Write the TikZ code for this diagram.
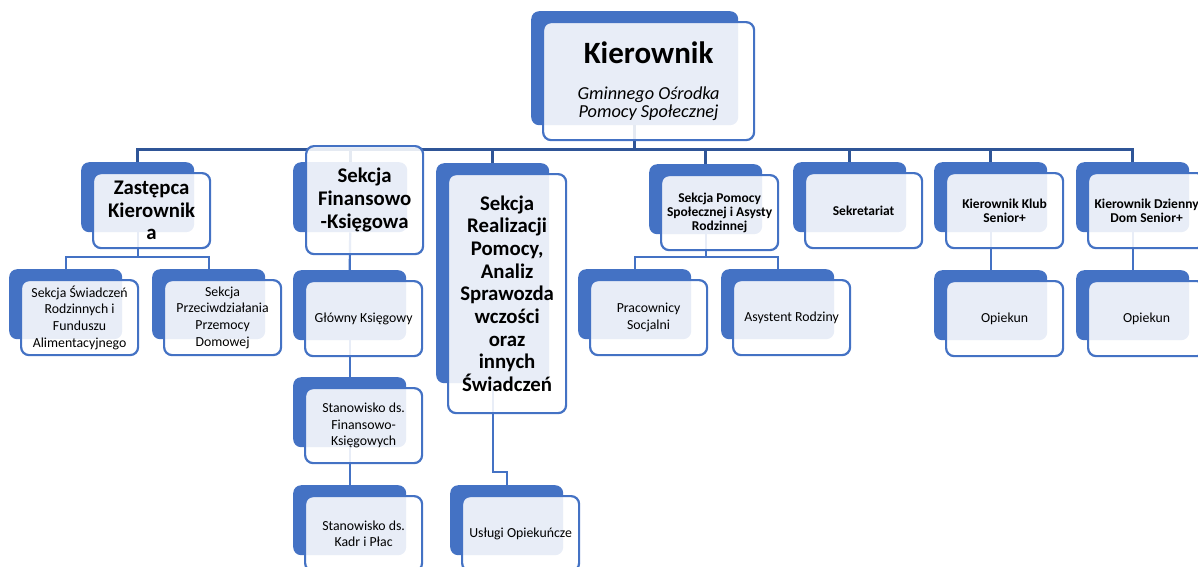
\documentclass[tikz,border=0pt]{standalone}
\usepackage{fontspec}
\setmainfont{Carlito}
\pgfdeclarelayer{bg}
\pgfsetlayers{bg,main}
\definecolor{acc}{HTML}{4472C4}
\definecolor{dk}{HTML}{2F5597}
\tikzset{
  backbox/.style={fill=acc, draw=none, rounded corners=8pt, anchor=north west, inner sep=0pt},
  frontbox/.style={draw=acc, line width=2.2pt, fill=white, fill opacity=0.88, text opacity=1,
    rounded corners=8pt, anchor=north west, align=center, inner sep=2pt, text=black},
  lone/.style={draw=dk, line width=3pt},
  ltwo/.style={draw=acc, line width=2.2pt},
  bigtxt/.style={font=\fontsize{20.8}{22.7}\selectfont\bfseries},
  midtxt/.style={font=\fontsize{13.5}{14.2}\selectfont\bfseries},
  smalltxt/.style={font=\fontsize{13.8}{16.6}\selectfont},
}
\newcommand\orgnode[5]{%
  \node[backbox, minimum width=113pt, minimum height=70pt] (B-#1) at (#2,#3) {};
  \node[frontbox, minimum width=117pt, minimum height=75pt, #4] (#1) at (#2+11,#3+10) {#5};}
\begin{document}
\begin{tikzpicture}[x=1pt,y=-1pt]
\useasboundingbox (0,0) rectangle (1198,566);
\clip (0,0) rectangle (1198,566);
% top node
\node[backbox, minimum width=207pt, minimum height=114pt] (B-kier) at (531,11) {};
\node[frontbox, minimum width=211pt, minimum height=118pt, font=\fontsize{18.3}{17.7}\selectfont] (kier) at (542,21)
  {{\fontsize{31}{31}\selectfont\bfseries Kierownik}\\[18pt]\textit{Gminnego Ośrodka}\\\textit{Pomocy Społecznej}};
% level 1
\orgnode{zast}{81}{162}{bigtxt}{Zastępca\\Kierownik\\a}
\node[backbox, minimum width=114pt, minimum height=70pt] (B-fin) at (293,162) {};
\node[frontbox, minimum width=117pt, minimum height=108pt, bigtxt] (fin) at (305,145) {Sekcja\\Finansowo\\-Księgowa};
\node[backbox, minimum width=113pt, minimum height=220pt] (B-real) at (436,163) {};
\node[frontbox, minimum width=118pt, minimum height=239pt, bigtxt] (real) at (447,173)
  {Sekcja\\Realizacji\\Pomocy,\\Analiz\\Sprawozda\\wczości\\oraz\\innych\\Świadczeń};
\orgnode{pom}{649}{164}{midtxt}{Sekcja Pomocy\\Społecznej i Asysty\\Rodzinnej}
\orgnode{sek}{793}{162}{midtxt}{Sekretariat}
\orgnode{klub}{934}{162}{midtxt}{Kierownik Klub\\Senior+}
\orgnode{dzien}{1076}{162}{midtxt}{Kierownik Dzienny\\Dom Senior+}
% level 2
\orgnode{sw}{9}{269}{smalltxt}{Sekcja Świadczeń\\Rodzinnych i\\Funduszu\\Alimentacyjnego}
\orgnode{prz}{152}{269}{smalltxt}{Sekcja\\Przeciwdziałania\\Przemocy\\Domowej}
\orgnode{gl}{293}{270}{smalltxt}{Główny Księgowy}
\orgnode{stA}{293}{377}{smalltxt}{Stanowisko ds.\\Finansowo-\\Księgowych}
\orgnode{stB}{293}{485}{smalltxt}{Stanowisko ds.\\Kadr i Płac}
\orgnode{usl}{450}{485}{smalltxt}{Usługi Opiekuńcze}
\orgnode{prac}{578}{269}{smalltxt}{Pracownicy\\Socjalni}
\orgnode{asy}{721}{269}{smalltxt}{Asystent Rodziny}
\orgnode{opA}{934}{270}{smalltxt}{Opiekun}
\orgnode{opB}{1076}{270}{smalltxt}{Opiekun}
% connectors
\begin{pgfonlayer}{bg}
\coordinate (busone) at (0,149);
\coordinate (bustwo) at (0,257);
\coordinate (busreal) at (0,472);
\draw[lone] (B-kier.south) -- (B-kier.south |- busone);
\foreach \c in {zast,fin,real,pom,sek,klub,dzien}
  \draw[lone] (B-kier.south |- busone) -| (B-\c.north);
\draw[ltwo] (B-zast.south) -- (B-zast.south |- bustwo) -| (B-sw.north);
\draw[ltwo] (B-zast.south |- bustwo) -| (B-prz.north);
\draw[ltwo] (B-pom.south) -- (B-pom.south |- bustwo) -| (B-prac.north);
\draw[ltwo] (B-pom.south |- bustwo) -| (B-asy.north);
\draw[ltwo] (B-fin.south) -- (B-gl.north);
\draw[ltwo] (B-gl.south) -- (B-stA.north);
\draw[ltwo] (B-stA.south) -- (B-stB.north);
\draw[ltwo] (B-real.south) -- (B-real.south |- busreal) -| (B-usl.north);
\draw[ltwo] (B-klub.south) -- (B-opA.north);
\draw[ltwo] (B-dzien.south) -- (B-opB.north);
\end{pgfonlayer}
\end{tikzpicture}
\end{document}
